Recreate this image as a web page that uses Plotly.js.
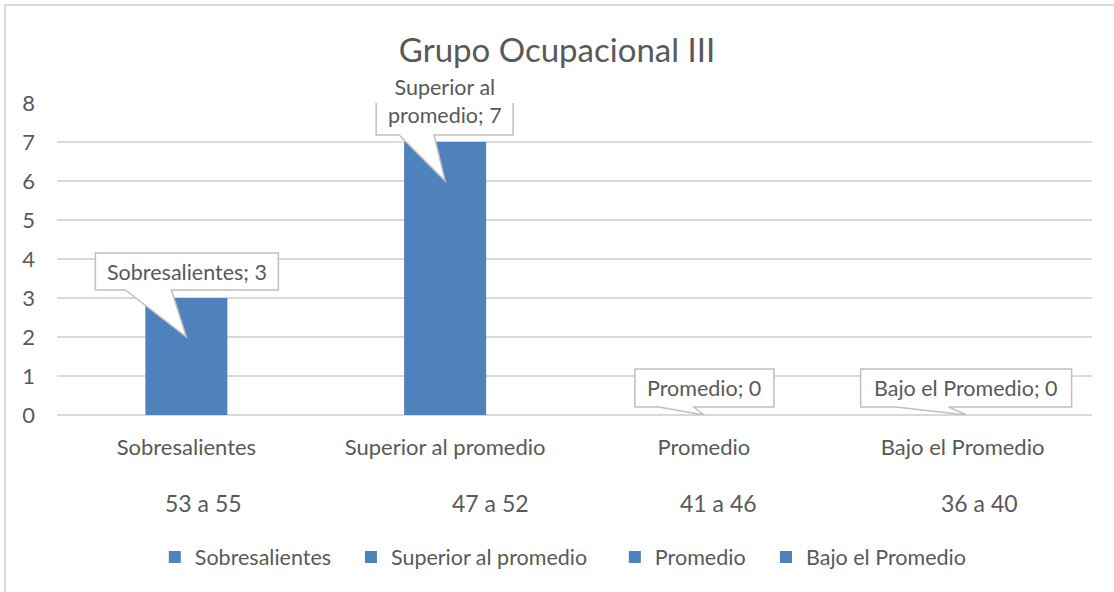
<!DOCTYPE html>
<html>
<head>
<meta charset="utf-8">
<script src="https://cdn.plot.ly/plotly-3.0.1.min.js"></script>
<style>
  html, body { margin: 0; padding: 0; background: #ffffff; }
  #frame { position: absolute; left: 4px; top: 4px; width: 1130px; height: 610px; border: 2px solid #d9d9d9; box-sizing: border-box; }
  #chart { position: absolute; left: 0; top: 0; width: 1114px; height: 592px; }
</style>
</head>
<body>
<div id="frame"></div>
<div id="chart"></div>
<script>
// ---- data ----
const categories = ['Sobresalientes', 'Superior al promedio', 'Promedio', 'Bajo el Promedio'];
const values = [3, 7, 0, 0];
const ranges = ['53 a 55', '47 a 52', '41 a 46', '36 a 40'];
const calloutLabels = ['Sobresalientes; 3', 'Superior al<br>promedio; 7', 'Promedio; 0', 'Bajo el Promedio; 0'];

// ---- style ----
const barColor = '#4f81bd';
const textColor = '#595959';
const fontFamily = 'Lato, "Open Sans", sans-serif';
// callout geometry in pixels relative to the bar top: [left, right, bottom, top, wedge1, wedge2, tipX, tipY]
const calloutGeom = [
  [-91, 92, 8, 45, -61, -15, 0, -39],
  [-69, 68, 7, 75, -46, -11, 0, -39],
  [-69, 70, 8, 46, -45, -10, 0, 0],
  [-102, 109, 8, 46, -67, -14, 4, 0]
];
const rangeShift = [17, 45, 15, 17];
// legend entry left positions (paper fraction)
const legendX = [0.0945, 0.284, 0.539, 0.685];

const legendIds = ['legend', 'legend2', 'legend3', 'legend4'];

const traces = categories.map((c, i) => ({
  type: 'bar',
  x: [c],
  y: [values[i]],
  name: c,
  legend: legendIds[i],
  width: 0.317,
  marker: { color: barColor },
  hoverinfo: 'x+y'
}));

const shapes = categories.map((c, i) => {
  const [L, R, B, T, w1, w2, tx, ty] = calloutGeom[i];
  return {
    type: 'path', xref: 'x', yref: 'y',
    xsizemode: 'pixel', ysizemode: 'pixel',
    xanchor: c, yanchor: values[i],
    path: `M${L},${B} L${w1},${B} L${tx},${ty} L${w2},${B} L${R},${B} L${R},${T} L${L},${T} Z`,
    fillcolor: '#ffffff',
    line: { color: '#bfbfbf', width: 1.5 },
    layer: 'above'
  };
});

const annotations = [];
categories.forEach((c, i) => {
  const [L, R, B, T] = calloutGeom[i];
  annotations.push({
    x: c, y: values[i], xref: 'x', yref: 'y',
    text: calloutLabels[i], showarrow: false,
    xshift: (L + R) / 2, yshift: (B + T) / 2,
    xanchor: 'center', yanchor: 'middle',
    font: { family: fontFamily, size: 21.5, color: textColor },
    align: 'center'
  });
  annotations.push({
    x: c, y: 0, xref: 'x', yref: 'paper',
    text: ranges[i], showarrow: false,
    xshift: rangeShift[i], yshift: -88,
    xanchor: 'center', yanchor: 'middle',
    font: { family: fontFamily, size: 23, color: textColor }
  });
});

const layout = {
  width: 1114, height: 592,
  paper_bgcolor: 'rgba(0,0,0,0)',
  plot_bgcolor: 'rgba(0,0,0,0)',
  margin: { l: 57, r: 22, t: 103, b: 177 },
  title: {
    text: 'Grupo Ocupacional III',
    font: { family: fontFamily, size: 33, color: textColor },
    x: 0.5, xanchor: 'center', y: 0.915, yanchor: 'middle'
  },
  barmode: 'overlay',
  showlegend: true,
  xaxis: {
    type: 'category',
    categoryorder: 'array', categoryarray: categories,
    showgrid: false, zeroline: false, showline: false,
    ticks: '', ticklabelstandoff: 17,
    tickfont: { family: fontFamily, size: 22, color: textColor }
  },
  yaxis: {
    range: [0, 8], dtick: 1, tick0: 0,
    showgrid: true, gridcolor: '#d9d9d9', gridwidth: 1.3,
    zeroline: true, zerolinecolor: '#d9d9d9', zerolinewidth: 1.3,
    showline: false, ticks: '', ticklabelstandoff: 21,
    tickfont: { family: fontFamily, size: 22, color: textColor }
  },
  shapes: shapes,
  annotations: annotations
};

legendIds.forEach((id, i) => {
  layout[id] = {
    orientation: 'h', x: legendX[i], xanchor: 'left', y: -0.455, yanchor: 'middle',
    font: { family: fontFamily, size: 21.5, color: textColor },
    bgcolor: 'rgba(0,0,0,0)'
  };
});

Plotly.newPlot('chart', traces, layout, { displayModeBar: false, staticPlot: true });
</script>
</body>
</html>
